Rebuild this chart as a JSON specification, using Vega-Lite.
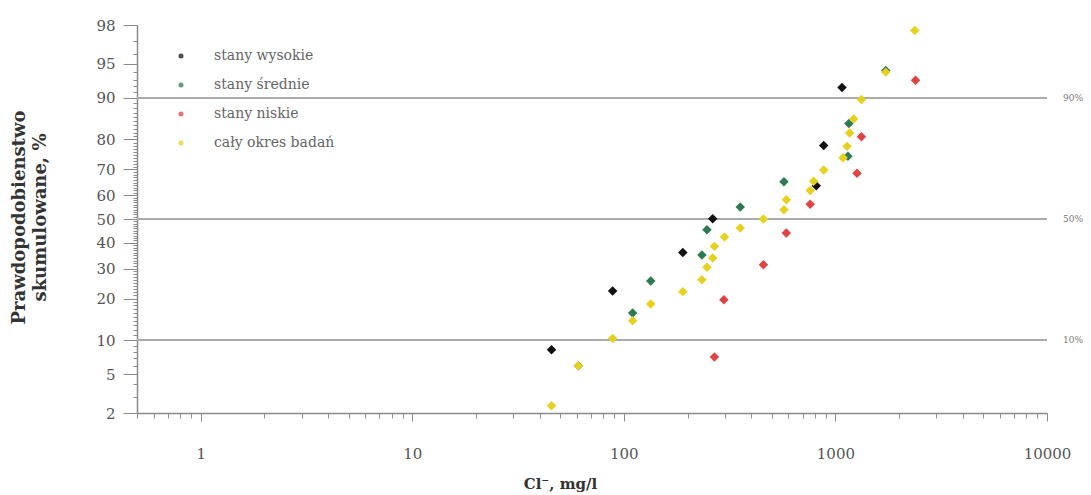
{
  "$schema": "https://vega.github.io/schema/vega-lite/v6.json",
  "width": 910,
  "height": 388,
  "autosize": {"type": "none"},
  "padding": {"left": 137, "top": 25, "right": 44, "bottom": 82},
  "background": "white",
  "config": {
    "view": {"stroke": null},
    "font": "DejaVu Serif",
    "axis": {"domainColor": "#8a8a8a", "domainWidth": 1.5, "tickColor": "#8a8a8a", "labelColor": "#555555", "labelFont": "DejaVu Serif", "titleFont": "DejaVu Serif", "grid": false}
  },
  "datasets": {
    "guides": [
      {"p": 10, "lab": "10%"},
      {"p": 50, "lab": "50%"},
      {"p": 90, "lab": "90%"}
    ],
    "points": [
      {"seria": "stany wysokie", "cl": 45.5, "p": 8.3},
      {"seria": "stany wysokie", "cl": 88.5, "p": 22.3},
      {"seria": "stany wysokie", "cl": 190, "p": 36.1},
      {"seria": "stany wysokie", "cl": 263, "p": 50.1},
      {"seria": "stany wysokie", "cl": 812, "p": 63.8},
      {"seria": "stany wysokie", "cl": 880, "p": 78.2},
      {"seria": "stany wysokie", "cl": 1074, "p": 91.8},
      {"seria": "stany średnie", "cl": 61, "p": 6.0},
      {"seria": "stany średnie", "cl": 110, "p": 16.0},
      {"seria": "stany średnie", "cl": 134, "p": 25.6},
      {"seria": "stany średnie", "cl": 234, "p": 35.2},
      {"seria": "stany średnie", "cl": 247, "p": 45.5},
      {"seria": "stany średnie", "cl": 355, "p": 55.1},
      {"seria": "stany średnie", "cl": 571, "p": 65.3},
      {"seria": "stany średnie", "cl": 1146, "p": 74.7},
      {"seria": "stany średnie", "cl": 1158, "p": 84.4},
      {"seria": "stany średnie", "cl": 1729, "p": 94.2},
      {"seria": "stany niskie", "cl": 268, "p": 7.2},
      {"seria": "stany niskie", "cl": 297, "p": 19.6},
      {"seria": "stany niskie", "cl": 457, "p": 31.4},
      {"seria": "stany niskie", "cl": 586, "p": 44.1},
      {"seria": "stany niskie", "cl": 760, "p": 56.2},
      {"seria": "stany niskie", "cl": 1265, "p": 68.6},
      {"seria": "stany niskie", "cl": 1327, "p": 80.8},
      {"seria": "stany niskie", "cl": 2390, "p": 92.9},
      {"seria": "cały okres badań", "cl": 45.5, "p": 2.4},
      {"seria": "cały okres badań", "cl": 61, "p": 6.0},
      {"seria": "cały okres badań", "cl": 88.5, "p": 10.3},
      {"seria": "cały okres badań", "cl": 110, "p": 14.1},
      {"seria": "cały okres badań", "cl": 134, "p": 18.4},
      {"seria": "cały okres badań", "cl": 190, "p": 22.1},
      {"seria": "cały okres badań", "cl": 234, "p": 26.0},
      {"seria": "cały okres badań", "cl": 247, "p": 30.5},
      {"seria": "cały okres badań", "cl": 263, "p": 34.0},
      {"seria": "cały okres badań", "cl": 268, "p": 38.6},
      {"seria": "cały okres badań", "cl": 299, "p": 42.4},
      {"seria": "cały okres badań", "cl": 355, "p": 46.2},
      {"seria": "cały okres badań", "cl": 457, "p": 50.0},
      {"seria": "cały okres badań", "cl": 571, "p": 53.9},
      {"seria": "cały okres badań", "cl": 586, "p": 58.1},
      {"seria": "cały okres badań", "cl": 760, "p": 61.9},
      {"seria": "cały okres badań", "cl": 789, "p": 65.5},
      {"seria": "cały okres badań", "cl": 880, "p": 69.8},
      {"seria": "cały okres badań", "cl": 1086, "p": 74.2},
      {"seria": "cały okres badań", "cl": 1135, "p": 77.9},
      {"seria": "cały okres badań", "cl": 1167, "p": 81.9},
      {"seria": "cały okres badań", "cl": 1220, "p": 85.5},
      {"seria": "cały okres badań", "cl": 1327, "p": 89.7},
      {"seria": "cały okres badań", "cl": 1729, "p": 94.0},
      {"seria": "cały okres badań", "cl": 2372, "p": 97.7}
    ]
  },
  "layer": [
    {
      "data": {"name": "guides"},
      "transform": [{"calculate": "quantileNormal(datum.p / 100)", "as": "z"}],
      "mark": {"type": "rule", "color": "#ababab", "strokeWidth": 2},
      "encoding": {
        "y": {"field": "z", "type": "quantitative", "scale": {"domain": [-2.0537, 2.0537], "nice": false, "zero": false}}
      }
    },
    {
      "data": {"name": "guides"},
      "transform": [{"calculate": "quantileNormal(datum.p / 100)", "as": "z"}],
      "mark": {"type": "text", "align": "left", "baseline": "middle", "dx": 16, "fontSize": 9, "color": "#777777", "font": "DejaVu Serif"},
      "encoding": {
        "x": {"datum": 10000, "type": "quantitative", "scale": {"type": "log", "domain": [0.5, 10000], "nice": false}},
        "y": {"field": "z", "type": "quantitative", "scale": {"domain": [-2.0537, 2.0537], "nice": false, "zero": false}},
        "text": {"field": "lab"}
      }
    },
    {
      "data": {"name": "points"},
      "transform": [{"calculate": "quantileNormal(datum.p / 100)", "as": "z"}],
      "mark": {"type": "point", "shape": "diamond", "filled": true, "size": 90, "opacity": 1, "strokeWidth": 0},
      "encoding": {
        "x": {
          "field": "cl", "type": "quantitative",
          "scale": {"type": "log", "domain": [0.5, 10000], "nice": false},
          "axis": {
            "title": "Cl⁻, mg/l",
            "titleFontSize": 15, "titleFontWeight": "bold", "titleColor": "#333333",
            "titleX": 423, "titleY": 70, "titleBaseline": "middle", "titleAnchor": "middle",
            "tickCount": 200,
            "values": [0.5,0.6,0.7,0.8,0.9,1,2,3,4,5,6,7,8,9,10,20,30,40,50,60,70,80,90,100,200,300,400,500,600,700,800,900,1000,2000,3000,4000,5000,6000,7000,8000,9000,10000],
            "labelExpr": "indexof([1,10,100,1000,10000], datum.value) >= 0 ? format(datum.value, 'd') : ''",
            "labelFontSize": 15, "labelPadding": 25, "labelOverlap": false, "labelFlush": false,
            "tickSize": {"condition": {"test": "indexof([1,10,100,1000,10000], datum.value) >= 0", "value": 8}, "value": 5}
          }
        },
        "y": {
          "field": "z", "type": "quantitative",
          "scale": {"domain": [-2.0537, 2.0537], "nice": false, "zero": false},
          "axis": {
            "title": ["Prawdopodobienstwo", "skumulowane, %"],
            "titleFontSize": 18, "titleFontWeight": "bold", "titleColor": "#333333",
            "titleAngle": -90, "titleX": -118, "titleY": 192, "titleBaseline": "middle", "titleAlign": "center", "titleLineHeight": 21,
            "tickCount": 200,
            "values": [-2.0537,-1.8808,-1.7507,-1.6449,-1.5548,-1.4758,-1.4051,-1.3408,-1.2816,-1.2265,-1.175,-1.1264,-1.0803,-1.0364,-0.9945,-0.9542,-0.9154,-0.8779,-0.8416,-0.8064,-0.7722,-0.7388,-0.7063,-0.6745,-0.6433,-0.6128,-0.5828,-0.5534,-0.5244,-0.4959,-0.4677,-0.4399,-0.4125,-0.3853,-0.3585,-0.3319,-0.3055,-0.2793,-0.2533,-0.2275,-0.2019,-0.1764,-0.151,-0.1257,-0.1004,-0.0753,-0.0502,-0.0251,0,0.0251,0.0502,0.0753,0.1004,0.1257,0.151,0.1764,0.2019,0.2275,0.2533,0.2793,0.3055,0.3319,0.3585,0.3853,0.4125,0.4399,0.4677,0.4959,0.5244,0.5534,0.5828,0.6128,0.6433,0.6745,0.7063,0.7388,0.7722,0.8064,0.8416,0.8779,0.9154,0.9542,0.9945,1.0364,1.0803,1.1264,1.175,1.2265,1.2816,1.3408,1.4051,1.4758,1.5548,1.6449,1.7507,1.8808,2.0537],
            "labelExpr": "indexof([-2.0537,-1.6449,-1.2816,-0.8416,-0.5244,-0.2533,0,0.2533,0.5244,0.8416,1.2816,1.6449,2.0537], round(datum.value * 10000) / 10000) >= 0 ? ['2','5','10','20','30','40','50','60','70','80','90','95','98'][indexof([-2.0537,-1.6449,-1.2816,-0.8416,-0.5244,-0.2533,0,0.2533,0.5244,0.8416,1.2816,1.6449,2.0537], round(datum.value * 10000) / 10000)] : ''",
            "labelFontSize": 15, "labelPadding": 8, "labelOverlap": false, "labelFlush": false,
            "tickSize": {"condition": {"test": "indexof([-2.0537,-1.6449,-1.2816,-0.8416,-0.5244,-0.2533,0,0.2533,0.5244,0.8416,1.2816,1.6449,2.0537], round(datum.value * 10000) / 10000) >= 0", "value": 14}, "value": 4}
          }
        },
        "color": {
          "field": "seria", "type": "nominal",
          "scale": {"domain": ["stany wysokie", "stany średnie", "stany niskie", "cały okres badań"], "range": ["#111111", "#2e7a52", "#e04343", "#e6d11e"]},
          "legend": {
            "title": null, "orient": "none", "legendX": 37, "legendY": 24, "padding": 0,
            "symbolType": "circle", "symbolSize": 25, "symbolOpacity": 0.75, "symbolStrokeWidth": 0,
            "labelFont": "DejaVu Serif", "labelFontSize": 14, "labelColor": "#666666", "labelOffset": 26, "rowPadding": 15
          }
        }
      }
    }
  ]
}
